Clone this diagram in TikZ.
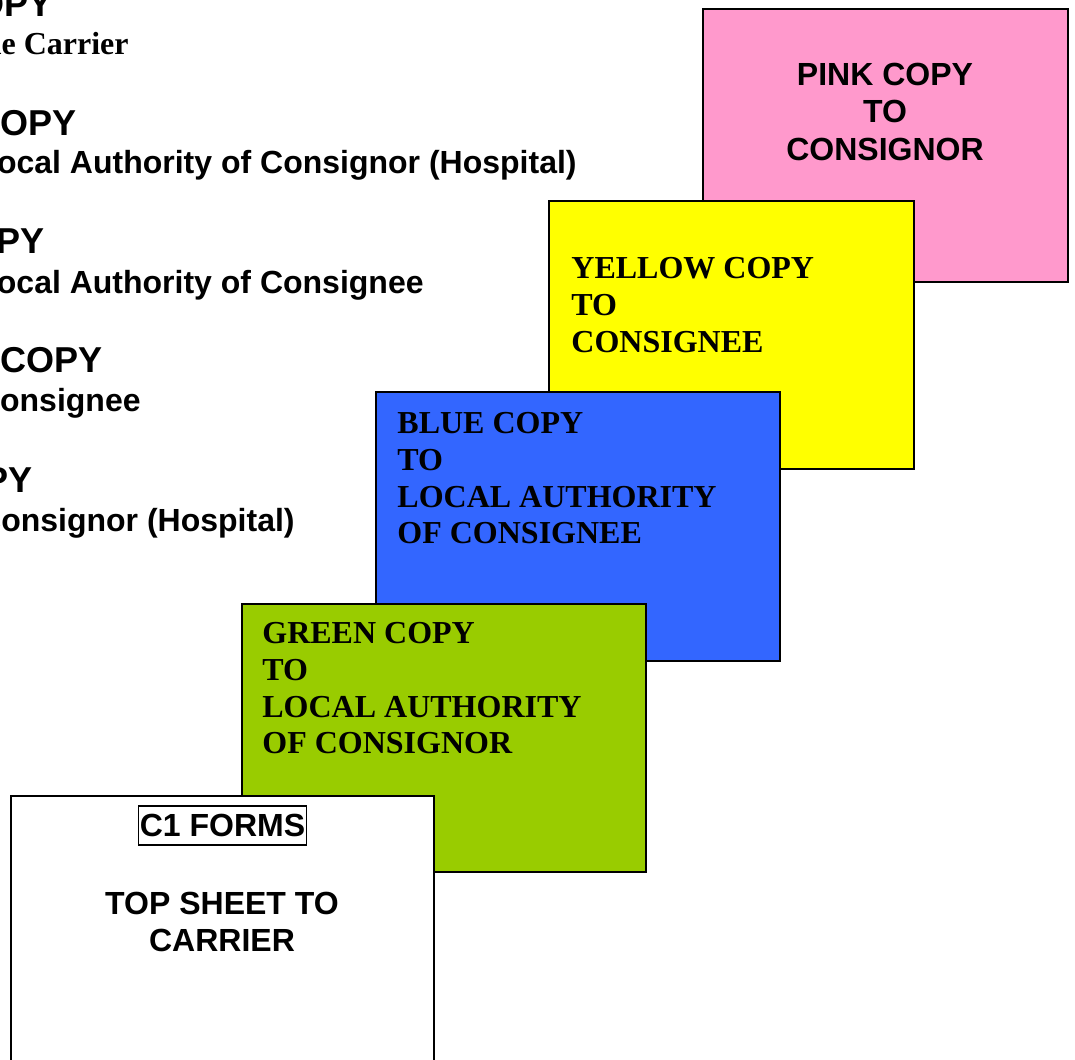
\documentclass[tikz,border=0pt]{standalone}
\usepackage{fontspec}
\newfontfamily\arialfont{Liberation Sans}
\newfontfamily\timesfont{Liberation Serif}

\definecolor{pinkcopy}{HTML}{FF99CC}
\definecolor{yellowcopy}{HTML}{FFFF00}
\definecolor{bluecopy}{HTML}{3366FF}
\definecolor{greencopy}{HTML}{99CC00}

\tikzset{
  sheet/.style={draw=black, line width=1pt},
  headtxt/.style={font=\arialfont\bfseries\fontsize{18}{21}\selectfont, anchor=base east, inner sep=0pt},
  subtxt/.style={font=\arialfont\bfseries\fontsize{16}{19}\selectfont, anchor=base east, inner sep=0pt},
  boxtxt/.style={font=\timesfont\bfseries\fontsize{16}{18.4}\selectfont, anchor=north west, align=left, inner sep=0pt},
  midtxt/.style={font=\arialfont\bfseries\fontsize{16}{18.6}\selectfont, anchor=north, align=center, inner sep=0pt}
}

\begin{document}
\begin{tikzpicture}[x=0.5pt, y=-0.5pt]
    \clip (0,0) rectangle (1075,1059);
    \fill[white] (0,0) rectangle (1075,1059);

    % list on the left
    \node[headtxt] (h1) at (53,17) {COPY};
    \node[subtxt, font=\timesfont\bfseries\fontsize{16}{19}\selectfont] (s1) at (129,55) {the Carrier};

    \node[headtxt] (h2) at (77,136) {COPY};
    \node[subtxt] (s2) at (577,174) {Local Authority of Consignor (Hospital)};

    \node[headtxt] (h3) at (45,254) {COPY};
    \node[subtxt] (s3) at (424,293) {Local Authority of Consignee};

    \node[headtxt] (h4) at (103,372) {COPY};
    \node[subtxt] (s4) at (141,411) {Consignee};

    \node[headtxt] (h5) at (33,492) {COPY};
    \node[subtxt] (s5) at (295,531) {Consignor (Hospital)};

    % the sheets
    \filldraw[sheet, fill=pinkcopy] (703,9) rectangle (1068,282);
    \node[midtxt] (pink) at (885,63) {PINK COPY\\TO\\CONSIGNOR};

    \filldraw[sheet, fill=yellowcopy] (549,201) rectangle (914,469);
    \node[boxtxt] (yellow) at (571,257) {YELLOW COPY\\TO\\CONSIGNEE};

    \filldraw[sheet, fill=bluecopy] (376,392) rectangle (780,661);
    \node[boxtxt] (blue) at (397,412) {BLUE COPY\\TO\\LOCAL AUTHORITY\\OF CONSIGNEE};

    \filldraw[sheet, fill=greencopy] (242,604) rectangle (646,872);
    \node[boxtxt] (green) at (262,622) {GREEN COPY\\TO\\LOCAL AUTHORITY\\OF CONSIGNOR};

    \filldraw[sheet, fill=white] (11,796) rectangle (434,1075);
    \node[draw=black, line width=0.6pt, inner xsep=0.5pt, minimum height=19.5pt,
          font=\arialfont\bfseries\fontsize{16}{19}\selectfont] (forms) at (222.5,825.5) {C1 FORMS};
    \node[midtxt] (top) at (222,892) {TOP SHEET TO\\CARRIER};
\end{tikzpicture}
\end{document}
